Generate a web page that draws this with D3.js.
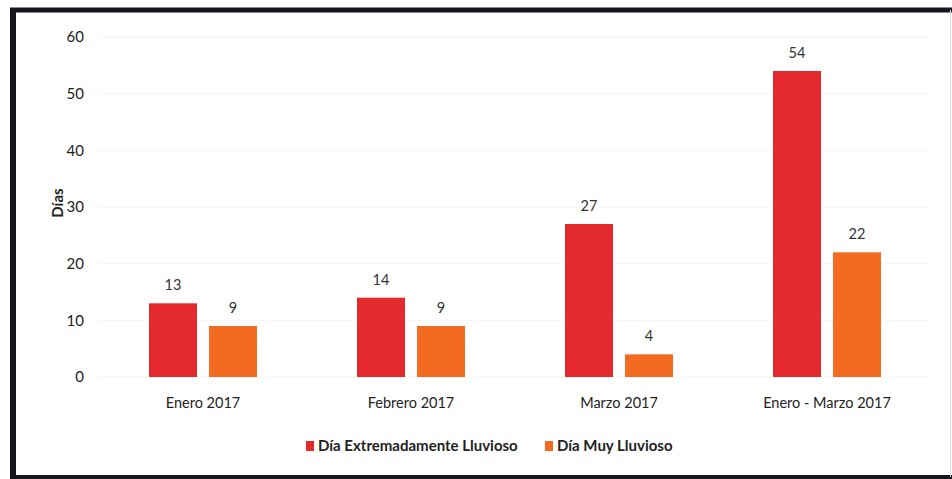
<!DOCTYPE html>
<html>
<head>
<meta charset="utf-8">
<script src="https://cdn.jsdelivr.net/npm/d3@7"></script>
<style>
  body { margin: 0; background: #fff; }
  text { font-family: Lato, "Open Sans", sans-serif; }
</style>
</head>
<body>
<div id="chart"></div>
<script>
// data
const periods = ['Enero 2017', 'Febrero 2017', 'Marzo 2017', 'Enero - Marzo 2017'];
const seriesNames = ['Día Extremadamente Lluvioso', 'Día Muy Lluvioso'];
const extremo = [13, 14, 27, 54];
const muy = [9, 9, 4, 22];
const yTicks = [0, 10, 20, 30, 40, 50, 60];
const colors = ['#e42a2c', '#f36b21'];

const W = 952, H = 479;
const svg = d3.select('#chart').append('svg')
    .attr('width', W)
    .attr('height', H);

// frame round the scanned chart
svg.append('rect').attr('x', 0).attr('y', 0).attr('width', W).attr('height', H).attr('fill', '#fff');
svg.append('line').attr('x1', 13).attr('x2', 13).attr('y1', 8).attr('y2', 479)
    .attr('stroke', '#15171c').attr('stroke-width', 6);
svg.append('line').attr('x1', 10).attr('x2', 952).attr('y1', 10).attr('y2', 10)
    .attr('stroke', '#15171c').attr('stroke-width', 5);
svg.append('line').attr('x1', 10).attr('x2', 952).attr('y1', 477).attr('y2', 477)
    .attr('stroke', '#15171c').attr('stroke-width', 4);
svg.append('line').attr('x1', 950.5).attr('x2', 950.5).attr('y1', 10).attr('y2', 477)
    .attr('stroke', '#d8d8d8').attr('stroke-width', 1);

const x0 = d3.scaleBand().domain(periods).range([99, 931]).paddingInner(0).paddingOuter(0);
const x1 = d3.scaleBand().domain(seriesNames).range([0, 108]).paddingInner(0.2);
const y = d3.scaleLinear().domain([0, 60]).range([377, 37]);

// faint grid lines
svg.append('g').selectAll('line')
    .data(yTicks)
    .join('line')
    .attr('x1', 99).attr('x2', 931)
    .attr('y1', d => y(d)).attr('y2', d => y(d))
    .attr('stroke', '#f4f4f4')
    .attr('stroke-width', 1);

// y axis labels
const yAxis = svg.append('g')
    .attr('transform', 'translate(84,0)')
    .call(d3.axisLeft(y).tickValues(yTicks).tickSize(0).tickPadding(0));
yAxis.select('.domain').remove();
yAxis.selectAll('text')
    .attr('font-size', 15)
    .attr('fill', '#222')
    .style('font-family', 'Lato, sans-serif');

svg.append('text')
    .attr('transform', 'translate(63,' + (y(30) - 4) + ') rotate(-90)')
    .attr('text-anchor', 'middle')
    .attr('font-size', 15)
    .attr('font-weight', 'bold')
    .attr('fill', '#222')
    .text('Días');

// x axis labels
const xAxis = svg.append('g')
    .attr('transform', 'translate(0,390)')
    .call(d3.axisBottom(x0).tickSize(0).tickPadding(8));
xAxis.select('.domain').remove();
xAxis.selectAll('text')
    .attr('font-size', 14.5)
    .attr('fill', '#222')
    .style('font-family', 'Lato, sans-serif');

// bars
const rows = periods.map((p, i) => ({ period: p, values: [extremo[i], muy[i]] }));
const groups = svg.append('g').selectAll('g')
    .data(rows)
    .join('g')
    .attr('transform', d => 'translate(' + (x0(d.period) + (x0.bandwidth() - 108) / 2) + ',0)');

groups.selectAll('rect')
    .data(d => d.values.map((v, j) => ({ name: seriesNames[j], value: v, j: j })))
    .join('rect')
    .attr('x', d => x1(d.name))
    .attr('y', d => y(d.value))
    .attr('width', x1.bandwidth())
    .attr('height', d => y(0) - y(d.value))
    .attr('fill', d => colors[d.j]);

groups.selectAll('text.val')
    .data(d => d.values.map((v, j) => ({ name: seriesNames[j], value: v })))
    .join('text')
    .attr('class', 'val')
    .attr('x', d => x1(d.name) + x1.bandwidth() / 2)
    .attr('y', d => y(d.value) - 13)
    .attr('text-anchor', 'middle')
    .attr('font-size', 14.5)
    .attr('fill', '#333')
    .text(d => d.value);

// legend
const legendX = [306, 545];
const legend = svg.append('g').selectAll('g')
    .data(seriesNames)
    .join('g')
    .attr('transform', (d, i) => 'translate(' + legendX[i] + ',446)');
legend.append('rect')
    .attr('x', 0).attr('y', -5)
    .attr('width', 8).attr('height', 10)
    .attr('fill', (d, i) => colors[i]);
legend.append('text')
    .attr('x', 12)
    .attr('y', 5)
    .attr('font-size', 15)
    .attr('font-weight', 'bold')
    .attr('fill', '#222')
    .text(d => d);
</script>
</body>
</html>
